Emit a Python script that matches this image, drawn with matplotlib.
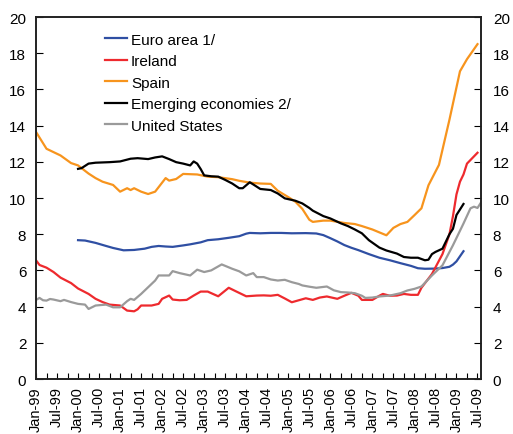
import numpy as np
import matplotlib
matplotlib.use("Agg")
import matplotlib.pyplot as plt

plt.rcParams["font.family"] = ["Liberation Sans", "DejaVu Sans"]
plt.rcParams["font.size"] = 11

# months counted from Jan-99
spain_m = [0, 3, 7, 10, 12, 15, 17, 19, 22, 24, 26, 27, 28, 30, 32, 34, 35, 37, 38, 40,
           42, 46, 49, 52, 56, 58, 61, 64, 67, 69, 72, 74, 76, 78, 79, 82, 84, 88, 91, 93,
           96, 98, 100, 102, 104, 106, 108, 110, 112, 115, 118, 121, 123, 126]
spain_v = [13.65, 12.72, 12.35, 11.93, 11.8, 11.35, 11.1, 10.9, 10.72, 10.35, 10.54, 10.44,
           10.54, 10.35, 10.22, 10.35, 10.6, 11.1, 10.96, 11.05, 11.33, 11.3, 11.18, 11.15,
           11.04, 10.95, 10.85, 10.8, 10.78, 10.4, 10.05, 9.8, 9.4, 8.8, 8.68, 8.75, 8.75,
           8.62, 8.56, 8.45, 8.26, 8.1, 7.94, 8.35, 8.56, 8.68, 9.05, 9.43, 10.7, 11.83,
           14.33, 17.0, 17.67, 18.5]

emerging_m = [12, 13, 15, 17, 21, 24, 27, 29, 32, 34, 36, 38, 40, 42, 44, 45, 46, 47, 48,
              50, 52, 54, 56, 58, 59, 61, 62, 64, 67, 69, 71, 74, 76, 78, 79, 82, 84, 87,
              89, 91, 93, 95, 98, 100, 103, 105, 107, 109, 111, 112, 113, 114, 116, 118,
              119, 120, 122]
emerging_v = [11.61, 11.65, 11.9, 11.95, 11.98, 12.02, 12.17, 12.2, 12.15, 12.24, 12.3,
              12.15, 11.98, 11.9, 11.8, 12.02, 11.9, 11.6, 11.25, 11.2, 11.18, 11.0, 10.8,
              10.54, 10.54, 10.87, 10.75, 10.5, 10.44, 10.25, 9.98, 9.85, 9.7, 9.45, 9.3,
              9.0, 8.87, 8.6, 8.45, 8.26, 8.05, 7.67, 7.26, 7.1, 6.93, 6.74, 6.7, 6.7,
              6.56, 6.59, 6.9, 7.02, 7.2, 8.0, 8.3, 9.06, 9.67]

euro_m = [12, 14, 17, 20, 22, 25, 28, 31, 33, 35, 37, 39, 42, 44, 47, 49, 52, 55, 58, 60,
          61, 64, 67, 70, 73, 77, 80, 82, 84, 86, 88, 90, 92, 95, 98, 101, 104, 107, 109,
          111, 114, 116, 118, 119, 120, 122]
euro_v = [7.67, 7.65, 7.52, 7.35, 7.24, 7.11, 7.13, 7.2, 7.3, 7.35, 7.32, 7.3, 7.38, 7.44,
          7.55, 7.67, 7.72, 7.8, 7.89, 8.03, 8.07, 8.05, 8.07, 8.07, 8.05, 8.06, 8.04, 7.95,
          7.78, 7.6, 7.4, 7.25, 7.12, 6.9, 6.7, 6.56, 6.4, 6.25, 6.12, 6.09, 6.1, 6.13,
          6.2, 6.32, 6.5, 7.06]

ireland_m = [0, 1, 3, 5, 7, 10, 12, 15, 17, 19, 21, 24, 26, 28, 29, 30, 33, 35, 36, 38, 39,
             41, 43, 45, 47, 49, 52, 55, 57, 60, 63, 65, 67, 69, 71, 73, 75, 77, 79, 81,
             83, 86, 88, 90, 92, 93, 96, 98, 99, 101, 103, 105, 107, 109, 110, 113, 116,
             118, 119, 120, 121, 122, 123, 124, 126]
ireland_v = [6.56, 6.3, 6.15, 5.91, 5.6, 5.3, 5.0, 4.7, 4.43, 4.25, 4.11, 4.06, 3.78, 3.74,
             3.85, 4.06, 4.06, 4.15, 4.43, 4.61, 4.39, 4.35, 4.37, 4.61, 4.83, 4.83, 4.57,
             5.04, 4.85, 4.57, 4.61, 4.62, 4.6, 4.65, 4.45, 4.24, 4.35, 4.46, 4.37, 4.5,
             4.56, 4.43, 4.6, 4.76, 4.6, 4.37, 4.37, 4.6, 4.7, 4.6, 4.61, 4.7, 4.65, 4.65,
             5.04, 5.8, 6.9, 8.0, 9.0, 10.2, 10.9, 11.3, 11.9, 12.1, 12.5]

us_m = [0, 1, 2, 3, 4, 5, 7, 8, 10, 12, 14, 15, 17, 20, 22, 24, 26, 27, 28, 30, 32, 34, 35,
        38, 39, 41, 44, 46, 48, 50, 53, 56, 58, 60, 62, 63, 65, 67, 69, 71, 73, 75, 76,
        78, 80, 83, 85, 87, 89, 91, 93, 94, 96, 98, 101, 104, 106, 108, 110, 113, 116,
        119, 122, 124, 125, 126, 127]
us_v = [4.37, 4.48, 4.35, 4.33, 4.42, 4.39, 4.3, 4.37, 4.25, 4.15, 4.11, 3.87, 4.06, 4.11,
        3.96, 3.96, 4.3, 4.43, 4.37, 4.7, 5.07, 5.44, 5.72, 5.72, 5.96, 5.85, 5.72, 6.04,
        5.91, 6.0, 6.33, 6.09, 5.95, 5.72, 5.85, 5.63, 5.63, 5.5, 5.44, 5.48, 5.35, 5.25,
        5.17, 5.1, 5.04, 5.11, 4.9, 4.8, 4.78, 4.74, 4.6, 4.48, 4.5, 4.56, 4.61, 4.74,
        4.89, 4.98, 5.11, 5.72, 6.28, 7.39, 8.59, 9.43, 9.52, 9.45, 9.75]

tick_labels = ["Jan-99", "Jul-99", "Jan-00", "Jul-00", "Jan-01", "Jul-01", "Jan-02",
               "Jul-02", "Jan-03", "Jul-03", "Jan-04", "Jul-04", "Jan-05", "Jul-05",
               "Jan-06", "Jul-06", "Jan-07", "Jul-07", "Jan-08", "Jul-08", "Jan-09",
               "Jul-09"]

fig = plt.figure(figsize=(5.13, 4.35), dpi=100)
ax = fig.add_axes([36 / 513, 1 - 380 / 435, 445 / 513, 362 / 435])

lw = 1.6
ax.plot(euro_m, euro_v, color="#2f4fa3", lw=lw, label="Euro area 1/")
ax.plot(ireland_m, ireland_v, color="#ee2a2e", lw=lw, label="Ireland")
ax.plot(spain_m, spain_v, color="#f7941d", lw=lw, label="Spain")
ax.plot(emerging_m, emerging_v, color="black", lw=lw, label="Emerging economies 2/")
ax.plot(us_m, us_v, color="#9a9a9a", lw=lw, label="United States")

ax.set_xlim(0, 127)
ax.set_ylim(0, 20)
ax.set_yticks(np.arange(0, 21, 2))

ax.set_xticks(np.arange(0, 128, 3))
ax.set_xticklabels([tick_labels[i // 6] if i % 6 == 0 else "" for i in range(0, 128, 3)],
                   rotation=90, fontsize=10.5)
ax.tick_params(axis="x", direction="in", length=4, pad=5, width=0.8)
ax.tick_params(axis="y", direction="in", length=5, pad=7, width=0.8)

ax2 = ax.twinx()
ax2.set_ylim(0, 20)
ax2.set_yticks(np.arange(0, 21, 2))
ax2.tick_params(axis="y", direction="in", length=5, pad=8.5, width=0.8)

for a in (ax, ax2):
    for s in a.spines.values():
        s.set_linewidth(1.2)
        s.set_color("#222222")

ax.legend(loc="upper left", bbox_to_anchor=(0.155, 0.957), frameon=False,
          handlelength=1.45, handletextpad=0.25, labelspacing=0.49, borderpad=0,
          borderaxespad=0, fontsize=11)

fig.savefig("out.png", dpi=100)
